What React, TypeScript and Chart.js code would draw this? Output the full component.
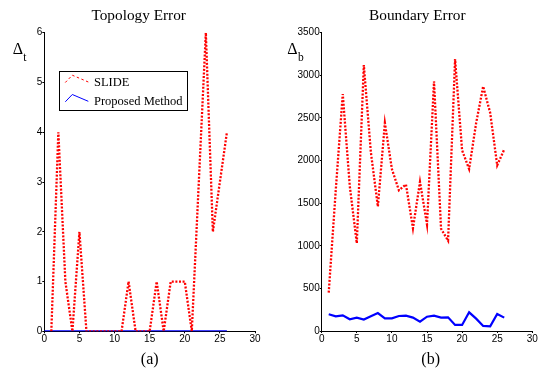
import React, { useEffect, useRef } from "react";
import { Chart, registerables } from "chart.js";

Chart.register(...registerables);

// ---------- data ----------
const iterations = [1, 2, 3, 4, 5, 6, 7, 8, 9, 10, 11, 12, 13, 14, 15, 16, 17, 18, 19, 20, 21, 22, 23, 24, 25, 26];
const iterationsFromZero = [0, 1, 2, 3, 4, 5, 6, 7, 8, 9, 10, 11, 12, 13, 14, 15, 16, 17, 18, 19, 20, 21, 22, 23, 24, 25, 26];

const topologySlide = [0, 4, 1, 0, 2, 0, 0, 0, 0, 0, 0, 1, 0, 0, 0, 1, 0, 1, 1, 1, 0, 3, 6, 2, 3, 4];
const topologyProposed = [0, 0, 0, 0, 0, 0, 0, 0, 0, 0, 0, 0, 0, 0, 0, 0, 0, 0, 0, 0, 0, 0, 0, 0, 0, 0, 0];

const boundarySlide = [450, 1650, 2780, 1700, 1030, 3120, 2100, 1460, 2440, 1900, 1650, 1720, 1205, 1750, 1250, 2930, 1200, 1060, 3190, 2120, 1900, 2440, 2870, 2560, 1945, 2130];
const boundaryProposed = [196, 172, 184, 137, 157, 134, 172, 211, 149, 149, 176, 180, 157, 110, 168, 180, 157, 161, 71, 71, 219, 145, 59, 55, 200, 157];

const seriesNames = ["SLIDE", "Proposed Method"];
const panelTitles = ["Topology Error", "Boundary Error"];
const panelCaptions = ["(a)", "(b)"];
const axisSubscripts = ["t", "b"];

const xTicks = { min: 0, max: 30, step: 5 };
const topologyTicks = { min: 0, max: 6, step: 1 };
const boundaryTicks = { min: 0, max: 3500, step: 500 };

const SLIDE_COLOR = "#ff0000";
const PROPOSED_COLOR = "#0000ff";
const SERIF = '"Liberation Serif", "Times New Roman", serif';
const SANS = '"Liberation Sans", Arial, sans-serif';

const toPoints = (xs: number[], ys: number[]) => ys.map((y, i) => ({ x: xs[i], y }));

type PanelCfg = {
  canvasLeft: number;
  width: number;
  height: number;
  area: { left: number; right: number; top: number; bottom: number };
  title: string;
  titleX: number;
  caption: string;
  captionX: number;
  deltaX: number;
  sub: string;
  legend: boolean;
  yTicks: { min: number; max: number; step: number };
  slide: { x: number; y: number }[];
  proposed: { x: number; y: number }[];
};

function makeOverlay(cfg: PanelCfg) {
  return {
    id: "overlay",
    afterDraw(chart: any) {
      const ctx: CanvasRenderingContext2D = chart.ctx;
      const a = chart.chartArea;
      ctx.save();
      ctx.fillStyle = "#000";
      ctx.textBaseline = "alphabetic";
      // title
      ctx.font = `15.3px ${SERIF}`;
      ctx.textAlign = "center";
      ctx.fillText(cfg.title, cfg.titleX, 20);
      // caption
      ctx.font = `16px ${SERIF}`;
      ctx.fillText(cfg.caption, cfg.captionX, 364);
      // Δ label
      ctx.textAlign = "left";
      ctx.font = `16px ${SERIF}`;
      ctx.fillText("Δ", cfg.deltaX, 54.3);
      const w = ctx.measureText("Δ").width;
      ctx.font = `11.5px ${SERIF}`;
      ctx.fillText(cfg.sub, cfg.deltaX + w + 0.3, 60.5);

      if (cfg.legend) {
        const bx = a.left + 15;
        const by = a.top + 38;
        const bw = 127.7;
        const bh = 38.6;
        ctx.fillStyle = "#fff";
        ctx.fillRect(bx, by, bw, bh);
        ctx.strokeStyle = "#000";
        ctx.lineWidth = 1;
        ctx.strokeRect(Math.round(bx) + 0.5, Math.round(by) + 0.5, Math.round(bw), Math.round(bh));
        const ds = chart.data.datasets;
        const rows = [by + 15.3, by + 34.6];
        ds.forEach((d: any, i: number) => {
          const base = rows[i];
          ctx.save();
          ctx.strokeStyle = d.borderColor;
          ctx.lineWidth = 1;
          ctx.setLineDash(i === 0 ? [2.5, 2.5] : []);
          ctx.beginPath();
          ctx.moveTo(bx + 6, base - 3.5);
          ctx.lineTo(bx + 13, base - 10.8);
          ctx.lineTo(bx + 29, base - 4);
          ctx.stroke();
          ctx.restore();
          ctx.fillStyle = "#000";
          ctx.font = `12.5px ${SERIF}`;
          ctx.textAlign = "left";
          ctx.fillText(d.label, bx + 34.7, base);
        });
      }
      ctx.restore();
    },
  };
}

function Panel({ cfg }: { cfg: PanelCfg }) {
  const ref = useRef<HTMLCanvasElement | null>(null);
  useEffect(() => {
    if (!ref.current) return;
    const scaleCommon = {
      type: "linear" as const,
      grid: { display: true, drawOnChartArea: false, drawTicks: true, tickLength: 2, color: "#000" },
      border: { display: true, color: "#000", width: 1 },
    };
    const tickFont = { family: SANS, size: 10 };
    const chart = new Chart(ref.current, {
      type: "line",
      data: {
        datasets: [
          {
            label: seriesNames[0],
            data: cfg.slide,
            borderColor: SLIDE_COLOR,
            backgroundColor: SLIDE_COLOR,
            borderWidth: 2.3,
            borderDash: [2, 1.6],
            pointRadius: 0,
            tension: 0,
            fill: false,
          },
          {
            label: seriesNames[1],
            data: cfg.proposed,
            borderColor: PROPOSED_COLOR,
            backgroundColor: PROPOSED_COLOR,
            borderWidth: 2.2,
            pointRadius: 0,
            tension: 0,
            fill: false,
          },
        ],
      },
      options: {
        responsive: false,
        animation: false,
        devicePixelRatio: 1,
        layout: {
          padding: {
            left: 0,
            top: cfg.area.top,
            right: cfg.width - cfg.area.right,
            bottom: 0,
          },
        },
        plugins: {
          legend: { display: false },
          title: { display: false },
          tooltip: { enabled: false },
        },
        scales: {
          x: {
            ...scaleCommon,
            position: "bottom",
            min: xTicks.min,
            max: xTicks.max,
            ticks: {
              stepSize: xTicks.step,
              autoSkip: false,
              maxRotation: 0,
              padding: 0,
              color: "#000",
              font: tickFont,
              callback: (v: any) => String(v),
            },
            afterFit: (s: any) => {
              s.height = cfg.height - cfg.area.bottom;
            },
          },
          y: {
            ...scaleCommon,
            position: "left",
            min: cfg.yTicks.min,
            max: cfg.yTicks.max,
            ticks: {
              stepSize: cfg.yTicks.step,
              autoSkip: false,
              padding: 0,
              color: "#000",
              font: tickFont,
              callback: (v: any) => String(v),
            },
            afterFit: (s: any) => {
              s.width = cfg.area.left;
            },
          },
        },
      } as any,
      plugins: [makeOverlay(cfg)],
    });
    return () => chart.destroy();
  }, [cfg]);
  return (
    <canvas
      ref={ref}
      width={cfg.width}
      height={cfg.height}
      style={{ position: "absolute", left: cfg.canvasLeft, top: 0, width: cfg.width, height: cfg.height }}
    />
  );
}

const leftPanel: PanelCfg = {
  canvasLeft: 0,
  width: 270,
  height: 368,
  area: { left: 44.3, right: 255, top: 32.7, bottom: 331.3 },
  title: panelTitles[0],
  titleX: 138.7,
  caption: panelCaptions[0],
  captionX: 149.7,
  deltaX: 12.7,
  sub: axisSubscripts[0],
  legend: true,
  yTicks: topologyTicks,
  slide: toPoints(iterations, topologySlide),
  proposed: toPoints(iterationsFromZero, topologyProposed),
};

const rightPanel: PanelCfg = {
  canvasLeft: 270,
  width: 271,
  height: 368,
  area: { left: 51.7, right: 262.3, top: 32.7, bottom: 331 },
  title: panelTitles[1],
  titleX: 147.3,
  caption: panelCaptions[1],
  captionX: 160.7,
  deltaX: 17.3,
  sub: axisSubscripts[1],
  legend: false,
  yTicks: boundaryTicks,
  slide: toPoints(iterations, boundarySlide),
  proposed: toPoints(iterations, boundaryProposed),
};

export default function App() {
  return (
    <div style={{ position: "absolute", left: 0, top: 0, width: 541, height: 368, background: "#fff" }}>
      <Panel cfg={leftPanel} />
      <Panel cfg={rightPanel} />
    </div>
  );
}
